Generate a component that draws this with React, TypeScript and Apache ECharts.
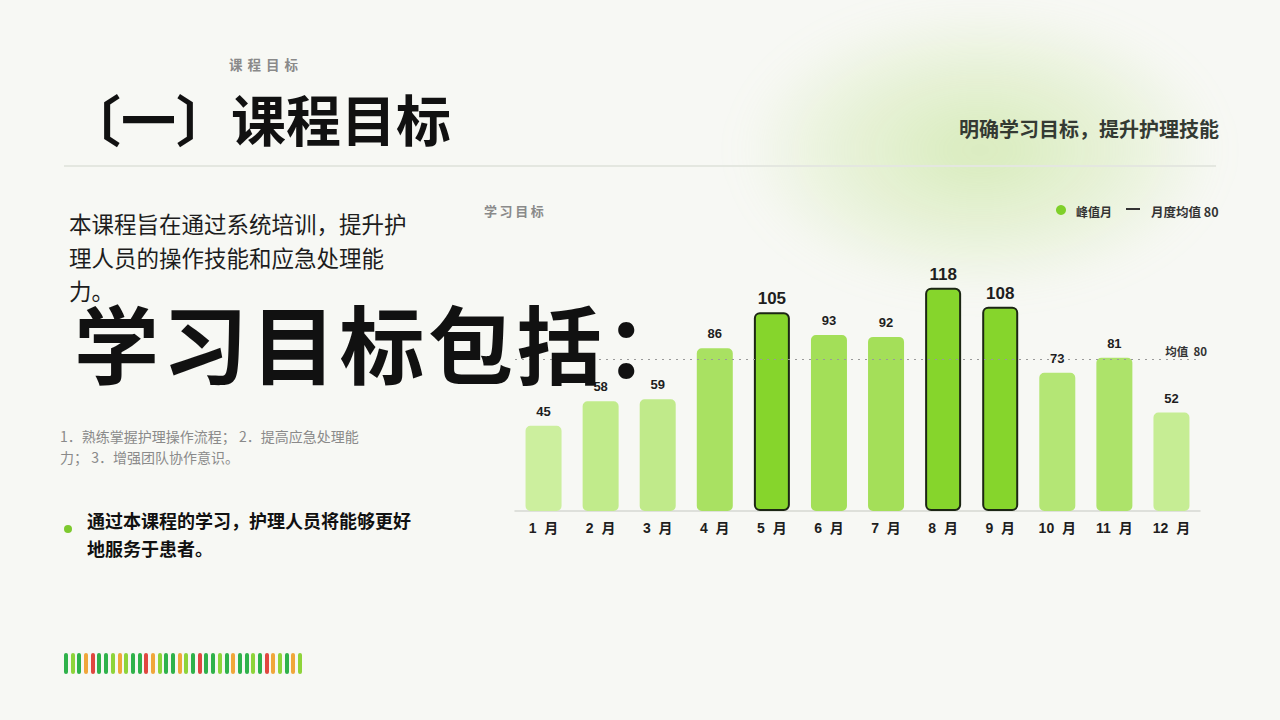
import React, { useEffect, useRef } from "react";
import * as echarts from "echarts";

const months = ["1  月", "2  月", "3  月", "4  月", "5  月", "6  月", "7  月", "8  月", "9  月", "10  月", "11  月", "12  月"];
const values = [45, 58, 59, 86, 105, 93, 92, 118, 108, 73, 81, 52];
const averageValue = 80;
const peakThreshold = 100;
const stripColors = [
  "G", "L", "G", "O", "R", "G", "G", "L", "O", "L", "G", "G", "R", "O", "L", "G", "G", "O",
  "L", "G", "R", "G", "G", "L", "G", "O", "G", "G", "L", "G", "R", "O", "L", "G", "O", "L",
];
const stripPalette: Record<string, string> = { G: "#2fb24a", L: "#8ed43a", O: "#f0a73a", R: "#e0473f" };

const CJK = '"Noto Sans CJK SC", "Noto Sans", sans-serif';
const NUM = '"Liberation Sans", "Noto Sans CJK SC", sans-serif';

function lerpColor(v: number): string {
  const lo = [204, 239, 158];
  const hi = [163, 223, 88];
  let t = (v - 45) / (93 - 45);
  t = Math.max(0, Math.min(1, t));
  const c = lo.map((a, i) => Math.round(a + (hi[i] - a) * t));
  return `rgb(${c[0]},${c[1]},${c[2]})`;
}

function Chart() {
  const ref = useRef<HTMLDivElement>(null);
  useEffect(() => {
    if (!ref.current) return;
    const chart = echarts.init(ref.current, null, { renderer: "svg" });
    const data = values.map((v) => {
      const peak = v >= peakThreshold;
      return {
        value: v,
        itemStyle: peak
          ? { color: "#86d52c", borderColor: "#1c2614", borderWidth: 2, borderRadius: 5 }
          : { color: lerpColor(v), borderRadius: 5 },
        label: peak
          ? { fontSize: 17, distance: 5 }
          : { fontSize: 13, distance: 8 },
      };
    });
    chart.setOption({
      animation: false,
      title: {
        text: "学\u2009习\u2009目\u2009标",
        left: 484,
        top: 204,
        padding: 0,
        textStyle: { fontFamily: CJK, fontSize: 13, fontWeight: "bold", color: "#8a8a8a" },
      },
      grid: { left: 515, right: 80, top: 265, bottom: 209 },
      xAxis: {
        type: "category",
        data: months,
        axisLine: { lineStyle: { color: "#d6d8d2", width: 1.5 } },
        axisTick: { show: false },
        axisLabel: {
          color: "#1e1e1e",
          fontSize: 14,
          fontWeight: "bold",
          fontFamily: NUM,
          margin: 10,
        },
      },
      yAxis: {
        type: "value",
        min: 0,
        max: 130,
        show: false,
        splitLine: { show: false },
      },
      series: [
        {
          type: "bar",
          data,
          barWidth: 36,
          label: {
            show: true,
            position: "top",
            color: "#1e1e1e",
            fontWeight: "bold",
            fontFamily: NUM,
          },
          markLine: {
            silent: true,
            symbol: "none",
            lineStyle: { color: "#9a9a9a", type: [2, 5], width: 1.2 },
            label: {
              show: true,
              position: "insideEndTop",
              formatter: "均值  80",
              color: "#333",
              fontSize: 11.5,
              fontWeight: "bold",
              fontFamily: CJK,
              distance: [0, 3],
              offset: [7, 0],
            },
            data: [{ yAxis: averageValue }],
          },
        },
      ],
      graphic: [
        { type: "circle", shape: { cx: 1061, cy: 210, r: 5 }, style: { fill: "#7fd02a" } },
        {
          type: "text",
          x: 1076,
          y: 211,
          style: { text: "峰值月", font: `bold 12px ${CJK}`, fill: "#333", textVerticalAlign: "middle" },
        },
        { type: "line", shape: { x1: 1126, y1: 209, x2: 1140, y2: 209 }, style: { stroke: "#333", lineWidth: 2 } },
        {
          type: "text",
          x: 1151,
          y: 211,
          style: { text: "月度均值 80", font: `bold 12.5px ${CJK}`, fill: "#333", textVerticalAlign: "middle" },
        },
      ],
    });
    return () => chart.dispose();
  }, []);
  return <div ref={ref} style={{ position: "absolute", left: 0, top: 0, width: 1280, height: 720, zIndex: 1 }} />;
}

export default function App() {
  return (
    <div
      style={{
        position: "fixed",
        left: 0,
        top: 0,
        width: 1280,
        height: 720,
        overflow: "hidden",
        background: "#f7f8f4",
        fontFamily: CJK,
      }}
    >
      <div
        style={{
          position: "absolute",
          left: 745,
          top: 10,
          width: 470,
          height: 280,
          borderRadius: "50%",
          background: "radial-gradient(ellipse at 50% 50%, rgba(165,215,95,0.38) 0%, rgba(180,222,120,0.2) 45%, rgba(200,230,160,0) 72%)",
          filter: "blur(18px)",
        }}
      />
      <Chart />
      <div style={{ position: "absolute", left: 229, top: 54, fontSize: 13.5, fontWeight: "bold", color: "#8a8a8a", letterSpacing: 5, zIndex: 2 }}>
        课程目标
      </div>
      <div style={{ position: "absolute", left: 66, top: 84, fontSize: 55, fontWeight: "bold", color: "#111", lineHeight: "66px", zIndex: 2, whiteSpace: "nowrap" }}>
        〔一〕课程目标
      </div>
      <div style={{ position: "absolute", right: 61, top: 114, fontSize: 20, fontWeight: "bold", color: "#343a33", zIndex: 2, whiteSpace: "nowrap" }}>
        明确学习目标，提升护理技能
      </div>
      <div style={{ position: "absolute", left: 64, top: 165, width: 1152, height: 1.5, background: "#e4e7e0", zIndex: 2 }} />
      <div style={{ position: "absolute", left: 69, top: 207, width: 352, fontSize: 22.5, lineHeight: "33.5px", color: "#1d1d1d", zIndex: 2 }}>
        本课程旨在通过系统培训，提升护理人员的操作技能和应急处理能力。
      </div>
      <div style={{ position: "absolute", left: 74, top: 291, fontSize: 85, fontWeight: "bold", color: "#111", lineHeight: "100px", letterSpacing: 3.5, zIndex: 3, whiteSpace: "nowrap" }}>
        学习目标包括：
      </div>
      <div style={{ position: "absolute", left: 60, top: 426, width: 318, fontSize: 14, lineHeight: "21px", color: "#8a8a8a", zIndex: 2 }}>
        1．熟练掌握护理操作流程； 2．提高应急处理能力； 3．增强团队协作意识。
      </div>
      <div style={{ position: "absolute", left: 64, top: 525, width: 8, height: 8, borderRadius: 4, background: "#7dc92e", zIndex: 2 }} />
      <div style={{ position: "absolute", left: 87, top: 506, width: 335, fontSize: 18, fontWeight: "bold", lineHeight: "28px", color: "#111", zIndex: 2 }}>
        通过本课程的学习，护理人员将能够更好地服务于患者。
      </div>
      <div style={{ position: "absolute", left: 64, top: 653, height: 21, display: "flex", gap: 2.7, zIndex: 2 }}>
        {stripColors.map((c, i) => (
          <div key={i} style={{ width: 4, height: 21, borderRadius: 2, background: stripPalette[c] }} />
        ))}
      </div>
    </div>
  );
}
